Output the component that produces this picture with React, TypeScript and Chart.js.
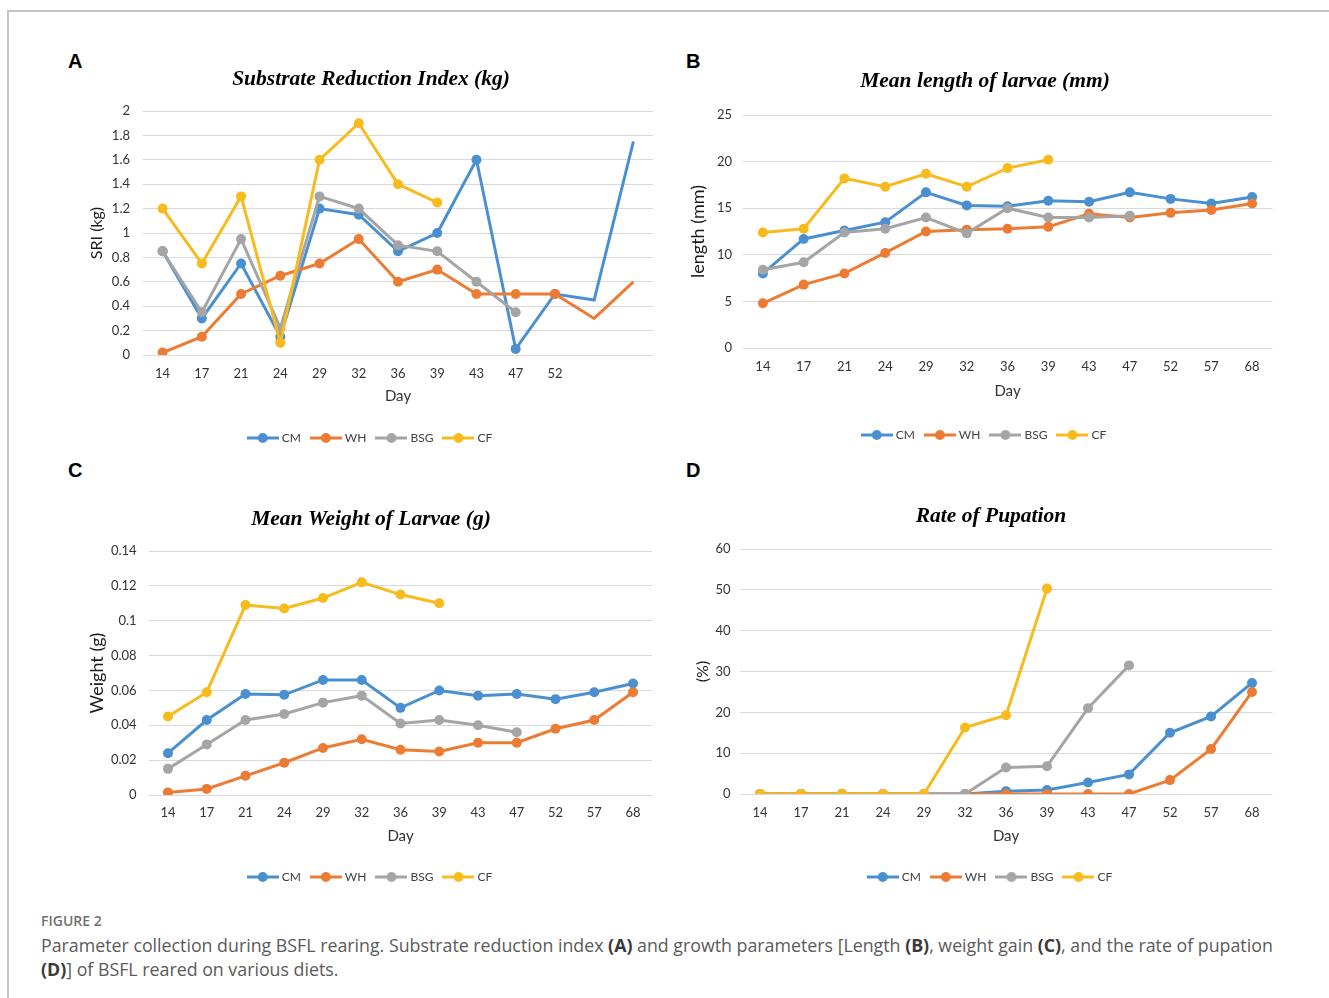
import React, { useEffect, useRef } from "react";
import { Chart, registerables } from "chart.js";

Chart.register(...registerables);

// ---------- data ----------
const SERIES = ["CM", "WH", "BSG", "CF"];
const COLORS = ["#4a90d0", "#ec7b34", "#a5a5a5", "#f7bb1d"];

const sriDays = ["14", "17", "21", "24", "29", "32", "36", "39", "43", "47", "52", "", ""];
const sriCM = [0.85, 0.3, 0.75, 0.15, 1.2, 1.15, 0.85, 1.0, 1.6, 0.05, 0.5, 0.45, 1.75];
const sriWH = [0.02, 0.15, 0.5, 0.65, 0.75, 0.95, 0.6, 0.7, 0.5, 0.5, 0.5, 0.3, 0.6];
const sriBSG = [0.85, 0.35, 0.95, 0.22, 1.3, 1.2, 0.9, 0.85, 0.6, 0.35, null, null, null];
const sriCF = [1.2, 0.75, 1.3, 0.1, 1.6, 1.9, 1.4, 1.25, null, null, null, null, null];
const sriMarkedCount = 11;

const days = ["14", "17", "21", "24", "29", "32", "36", "39", "43", "47", "52", "57", "68"];

const lenCM = [8.0, 11.7, 12.6, 13.5, 16.7, 15.3, 15.2, 15.8, 15.7, 16.7, 16.0, 15.5, 16.2];
const lenWH = [4.8, 6.8, 8.0, 10.2, 12.5, 12.7, 12.8, 13.0, 14.4, 14.0, 14.5, 14.8, 15.5];
const lenBSG = [8.4, 9.2, 12.4, 12.8, 14.0, 12.3, 15.0, 14.0, 14.0, 14.2, null, null, null];
const lenCF = [12.4, 12.8, 18.2, 17.3, 18.7, 17.3, 19.3, 20.2, null, null, null, null, null];

const wtCM = [0.024, 0.043, 0.058, 0.0575, 0.066, 0.066, 0.05, 0.06, 0.057, 0.058, 0.055, 0.059, 0.064];
const wtWH = [0.0015, 0.0035, 0.011, 0.0185, 0.027, 0.032, 0.026, 0.025, 0.03, 0.03, 0.038, 0.043, 0.059];
const wtBSG = [0.015, 0.029, 0.043, 0.0465, 0.053, 0.057, 0.041, 0.043, 0.04, 0.036, null, null, null];
const wtCF = [0.045, 0.059, 0.109, 0.107, 0.113, 0.122, 0.115, 0.11, null, null, null, null, null];

const pupCM = [0, 0, 0, 0, 0, 0, 0.7, 1.0, 2.8, 4.8, 15.0, 19.0, 27.2];
const pupWH = [0, 0, 0, 0, 0, 0, 0, 0, 0, 0, 3.4, 11.0, 25.0];
const pupBSG = [0, 0, 0, 0, 0, 0, 6.5, 6.8, 21.0, 31.5, null, null, null];
const pupCF = [0, 0, 0, 0, 0, 16.3, 19.3, 50.3, null, null, null, null, null];

// ---------- helpers ----------
const TICK_FONT = { family: "Lato", size: 13 };
const TICK_COLOR = "#333333";
const LEGEND_FONT_SIZE = 12;
const LEGEND_PAD = 12;

function legendIcon(color: string) {
  const c = document.createElement("canvas");
  c.width = 32;
  c.height = 12;
  const ctx = c.getContext("2d")!;
  ctx.strokeStyle = color;
  ctx.lineWidth = 3;
  ctx.beginPath();
  ctx.moveTo(0, 6);
  ctx.lineTo(32, 6);
  ctx.stroke();
  ctx.fillStyle = color;
  ctx.beginPath();
  ctx.arc(16, 6, 5, 0, Math.PI * 2);
  ctx.fill();
  return c;
}

type Cfg = {
  left: number; top: number; width: number; height: number;
  title: string; titlePad: [number, number];
  yTitle: string; yTitleSize: number; yTitlePad: number; yWidth: number; yTickPad: number;
  xHeight: number; xTickPad: number; xTitlePadB: number; padRight: number;
  labels: string[]; series: (number | null)[][]; marked?: number;
  min: number; max: number; step: number;
};

function Panel({ cfg }: { cfg: Cfg }) {
  const ref = useRef<HTMLCanvasElement>(null);
  useEffect(() => {
    const icons = COLORS.map(legendIcon);
    const datasets = cfg.series.map((vals, i) => ({
      label: SERIES[i],
      data: vals,
      yAxisID: "y",
      borderColor: COLORS[i],
      backgroundColor: COLORS[i],
      borderWidth: 3,
      pointRadius: cfg.marked != null ? vals.map((_, j) => (j < cfg.marked! ? 5 : 0)) : 5,
      pointBorderWidth: 0,
      pointBackgroundColor: COLORS[i],
      pointHoverRadius: 0,
      tension: 0,
      spanGaps: false,
      order: 4 - i,
    }));
    const chart = new Chart(ref.current!, {
      type: "line",
      data: { labels: cfg.labels, datasets },
      options: {
        animation: false,
        responsive: false,
        events: [],
        layout: { padding: 0 },
        plugins: {
          tooltip: { enabled: false },
          title: {
            display: true,
            text: cfg.title,
            color: "#000",
            font: { family: "Liberation Serif", size: 21.5, weight: "bold", style: "italic", lineHeight: 1.2 },
            padding: { top: cfg.titlePad[0], bottom: cfg.titlePad[1] },
          },
          legend: {
            position: "bottom",
            labels: {
              usePointStyle: true,
              pointStyleWidth: 26,
              boxHeight: LEGEND_FONT_SIZE,
              padding: LEGEND_PAD,
              color: "#404040",
              font: { family: "Lato", size: LEGEND_FONT_SIZE },
              generateLabels: () =>
                SERIES.map((s, i) => ({
                  text: s,
                  pointStyle: icons[i] as any,
                  fillStyle: COLORS[i],
                  strokeStyle: COLORS[i],
                  lineWidth: 0,
                  hidden: false,
                  datasetIndex: i,
                  fontColor: "#404040",
                })),
            },
          },
        },
        scales: {
          x: {
            type: "category",
            offset: true,
            grid: { display: false, drawTicks: false },
            border: { display: false },
            ticks: {
              padding: cfg.xTickPad,
              font: TICK_FONT,
              color: TICK_COLOR,
              maxRotation: 0,
              autoSkip: false,
            },
            title: {
              display: true,
              text: "Day",
              color: "#333333",
              font: { family: "Lato", size: 15 },
              padding: { top: 0, bottom: cfg.xTitlePadB },
            },
            afterFit: (s: any) => {
              s.height = cfg.xHeight;
            },
          },
          y: {
            position: "left",
            min: cfg.min,
            max: cfg.max,
            grid: { color: "#d9d9d9", lineWidth: 1, drawTicks: false },
            border: { display: false },
            ticks: {
              stepSize: cfg.step,
              padding: cfg.yTickPad,
              font: TICK_FONT,
              color: TICK_COLOR,
              callback: (v: any) => String(+Number(v).toFixed(4)),
            },
            title: {
              display: true,
              text: cfg.yTitle,
              color: "#1a1a1a",
              font: { family: "Lato", size: cfg.yTitleSize },
              padding: { top: cfg.yTitlePad, bottom: 0 },
            },
            afterFit: (s: any) => {
              s.width = cfg.yWidth;
            },
          },
          // empty spacer on the right so the title/legend centre matches
          yRight: {
            type: "linear",
            position: "right",
            display: true,
            grid: { display: false, drawTicks: false },
            border: { display: false },
            ticks: { display: false },
            afterFit: (s: any) => {
              s.width = cfg.padRight;
            },
          },
        },
      } as any,
    });
    return () => chart.destroy();
  }, [cfg]);
  return (
    <canvas
      ref={ref}
      width={cfg.width}
      height={cfg.height}
      style={{ position: "absolute", left: cfg.left, top: cfg.top, width: cfg.width, height: cfg.height }}
    />
  );
}

// title box height = padTop + 25.8 + padBottom ; legend box = 12 + 12 + 10 = 34
const panelA: Cfg = {
  left: 80, top: 60, width: 582, height: 394,
  title: "Substrate Reduction Index (kg)", titlePad: [7, 18.2],
  yTitle: "SRI (kg)", yTitleSize: 16, yTitlePad: 7.4, yWidth: 63, yTickPad: 13,
  xHeight: 65, xTickPad: 11.5, xTitlePadB: 15, padRight: 9,
  labels: sriDays, series: [sriCM, sriWH, sriBSG, sriCF], marked: sriMarkedCount,
  min: 0, max: 2, step: 0.2,
};
const panelB: Cfg = {
  left: 685, top: 60, width: 600, height: 391,
  title: "Mean length of larvae (mm)", titlePad: [9, 20.2],
  yTitle: "length (mm)", yTitleSize: 18, yTitlePad: 2.2, yWidth: 57.5, yTickPad: 10.5,
  xHeight: 69, xTickPad: 11.5, xTitlePadB: 17, padRight: 12.5,
  labels: days, series: [lenCM, lenWH, lenBSG, lenCF],
  min: 0, max: 25, step: 5,
};
const panelC: Cfg = {
  left: 80, top: 490, width: 582, height: 403,
  title: "Mean Weight of Larvae (g)", titlePad: [17, 18.2],
  yTitle: "Weight (g)", yTitleSize: 18, yTitlePad: 6.2, yWidth: 68.6, yTickPad: 12,
  xHeight: 64, xTickPad: 10.5, xTitlePadB: 14, padRight: 9.6,
  labels: days, series: [wtCM, wtWH, wtBSG, wtCF],
  min: 0, max: 0.14, step: 0.02,
};
const panelD: Cfg = {
  left: 685, top: 490, width: 612, height: 403,
  title: "Rate of Pupation", titlePad: [14, 19.2],
  yTitle: "(%)", yTitleSize: 16, yTitlePad: 8.4, yWidth: 54.5, yTickPad: 9,
  xHeight: 65, xTickPad: 11.5, xTitlePadB: 14, padRight: 24.5,
  labels: days, series: [pupCM, pupWH, pupBSG, pupCF],
  min: 0, max: 60, step: 10,
};

const letterStyle: React.CSSProperties = {
  position: "absolute",
  fontFamily: "'Liberation Sans', Arial, sans-serif",
  fontWeight: 700,
  fontSize: 20,
  lineHeight: "22px",
  color: "#000",
};

export default function App() {
  const b: React.CSSProperties = { fontWeight: 700, color: "#3a3a3a" };
  return (
    <div style={{ position: "absolute", left: 0, top: 0, width: 1329, height: 998, background: "#fff", overflow: "hidden" }}>
      <div
        style={{
          position: "absolute",
          left: 7,
          top: 10,
          width: 1330,
          height: 1000,
          borderTop: "2px solid #c4c4c4",
          borderLeft: "2px solid #c4c4c4",
        }}
      />
      <div style={{ ...letterStyle, left: 68, top: 50 }}>A</div>
      <div style={{ ...letterStyle, left: 686, top: 50 }}>B</div>
      <div style={{ ...letterStyle, left: 68, top: 459 }}>C</div>
      <div style={{ ...letterStyle, left: 686, top: 459 }}>D</div>
      <Panel cfg={panelA} />
      <Panel cfg={panelB} />
      <Panel cfg={panelC} />
      <Panel cfg={panelD} />
      <div
        style={{
          position: "absolute",
          left: 41,
          top: 911,
          fontFamily: "'Open Sans', sans-serif",
          fontWeight: 600,
          fontSize: 14,
          lineHeight: "20px",
          color: "#707070",
        }}
      >
        FIGURE 2
      </div>
      <div
        style={{
          position: "absolute",
          left: 41,
          top: 933,
          fontFamily: "'Open Sans', sans-serif",
          fontSize: 17.8,
          lineHeight: "24px",
          color: "#5a5a5a",
          whiteSpace: "nowrap",
        }}
      >
        Parameter collection during BSFL rearing. Substrate reduction index <span style={b}>(A)</span> and growth
        parameters [Length <span style={b}>(B)</span>, weight gain <span style={b}>(C)</span>, and the rate of pupation
        <br />
        <span style={b}>(D)</span>] of BSFL reared on various diets.
      </div>
    </div>
  );
}
